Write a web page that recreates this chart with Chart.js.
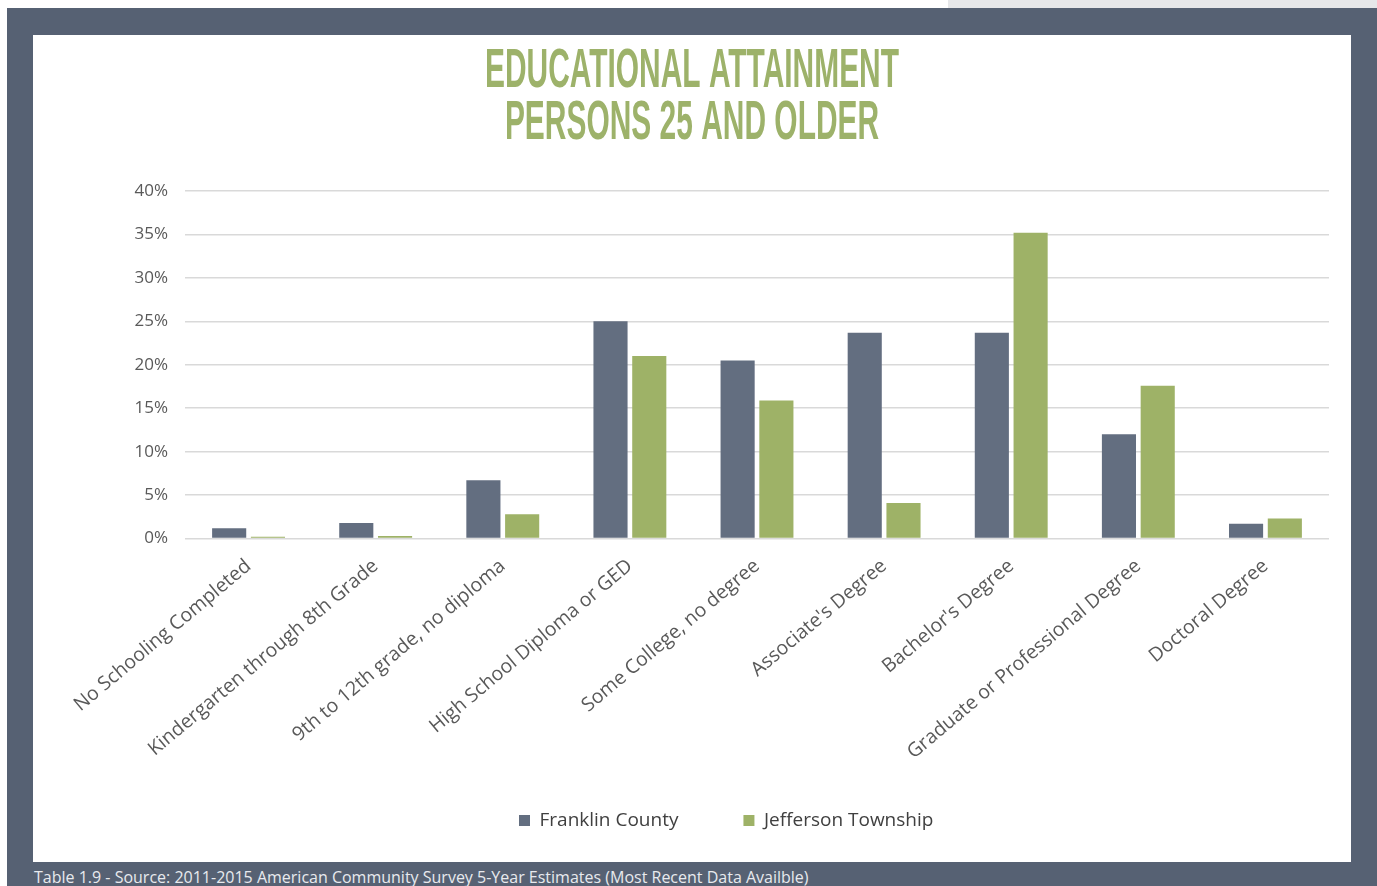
<!DOCTYPE html>
<html>
<head>
<meta charset="utf-8">
<script src="https://cdn.jsdelivr.net/npm/chart.js@4.4.0/dist/chart.umd.min.js"></script>
<style>
  body { margin: 0; background: #fff; width: 1377px; height: 886px; overflow: hidden; position: relative; font-family: "Open Sans", sans-serif; }
  #corner { position: absolute; left: 948px; top: 0; width: 429px; height: 8px; background: #e6e7e9; }
  #frame { position: absolute; left: 7px; top: 8px; width: 1370px; height: 878px; background: #566173; }
  #panel { position: absolute; left: 33px; top: 35px; width: 1318px; height: 827px; background: #fff; }
  #source { position: absolute; left: 34px; top: 866px; color: #e8eaee; font-size: 16px; white-space: nowrap; }
</style>
</head>
<body>
<div id="corner"></div>
<div id="frame"></div>
<div id="panel"><canvas id="eduChart" width="1318" height="827"></canvas></div>
<div id="source">Table 1.9 - Source: 2011-2015 American Community Survey 5-Year Estimates (Most Recent Data Availble)</div>
<script>
// categories + values (percent)
var levels = ["No Schooling Completed", "Kindergarten through 8th Grade", "9th to 12th grade, no diploma",
  "High School Diploma or GED", "Some College, no degree", "Associate's Degree",
  "Bachelor's Degree", "Graduate or Professional Degree", "Doctoral Degree"];
var franklin = [1.2, 1.8, 6.7, 25.0, 20.5, 23.7, 23.7, 12.0, 1.7];
var jefferson = [0.2, 0.3, 2.8, 21.0, 15.9, 4.1, 35.2, 17.6, 2.3];
var yTicks = [0, 5, 10, 15, 20, 25, 30, 35, 40];
var titleLines = ["EDUCATIONAL ATTAINMENT", "PERSONS 25 AND OLDER"];

// condensed title (no Bebas-like font installed, so squeeze a bold sans)
const narrowTitle = {
  id: 'narrowTitle',
  afterDraw(chart) {
    const c = chart.ctx;
    c.save();
    c.fillStyle = "#9db26a";
    c.font = "bold 55px 'Liberation Sans', Arial, sans-serif";
    c.textAlign = "center";
    c.textBaseline = "alphabetic";
    const sx = 414 / c.measureText(titleLines[0]).width;
    const cx = chart.width / 2;
    [52, 104].forEach((y, i) => {
      c.save();
      c.translate(cx, y);
      c.scale(sx, 1);
      c.fillText(titleLines[i], 0, 0);
      c.restore();
    });
    c.restore();
  }
};

// legend: wide gap between the two items, but keep its reserved height small
const legendPlace = {
  id: 'legendPlace',
  afterInit(chart) {
    const lg = chart.legend;
    const fit = lg.fit.bind(lg);
    lg.fit = function() { fit(); this.height = 90; };
  },
  afterUpdate(chart) {
    const lg = chart.legend;
    const pad = lg.options.labels.padding;
    const startX = (lg.left + pad + lg.right - lg.lineWidths[0]) / 2;
    const dx = 486 - startX;
    lg.left += dx; lg.right += dx;
    lg.top = 784 - pad - 8;
    lg.bottom = chart.height;
  }
};

const data = {
  labels: levels,
  datasets: [{
    label: "Franklin County",
    data: franklin,
    backgroundColor: "#636e80",
    borderWidth: 0,
    barPercentage: 0.88,
    categoryPercentage: 0.61
  }, {
    label: "Jefferson Township",
    data: jefferson,
    backgroundColor: "#9eb267",
    borderWidth: 0,
    barPercentage: 0.88,
    categoryPercentage: 0.61
  }]
};

var ctx = document.getElementById('eduChart').getContext('2d');
const config = {
  type: 'bar',
  data: data,
  options: {
    responsive: false,
    animation: false,
    layout: { padding: { left: 0, right: 22, top: 156, bottom: 0 } },
    plugins: {
      title: { display: false },
      legend: {
        position: 'bottom',
        labels: {
          boxWidth: 11,
          boxHeight: 11,
          padding: 65,
          color: "#404040",
          font: { family: "'Open Sans'", size: 19 }
        }
      },
      tooltip: { enabled: false }
    },
    scales: {
      x: {
        grid: { display: false },
        border: { display: false },
        ticks: {
          maxRotation: 40,
          minRotation: 40,
          color: "#595959",
          font: { family: "'Open Sans'", size: 19.5 },
          padding: 8
        }
      },
      y: {
        min: 0,
        max: 40,
        afterBuildTicks: function(axis) { axis.ticks = yTicks.map(v => ({ value: v })); },
        afterFit: function(axis) { axis.width = 152; },
        grid: { color: "#d9d9d9", lineWidth: 1.5, drawTicks: false },
        border: { display: false },
        ticks: {
          color: "#595959",
          font: { family: "'Open Sans'", size: 17 },
          padding: 17,
          callback: v => v + "%"
        }
      }
    }
  },
  plugins: [narrowTitle, legendPlace]
};
var makeBarChart = (ctx, config) => new Chart(ctx, config);
makeBarChart(ctx, config);
</script>
</body>
</html>
